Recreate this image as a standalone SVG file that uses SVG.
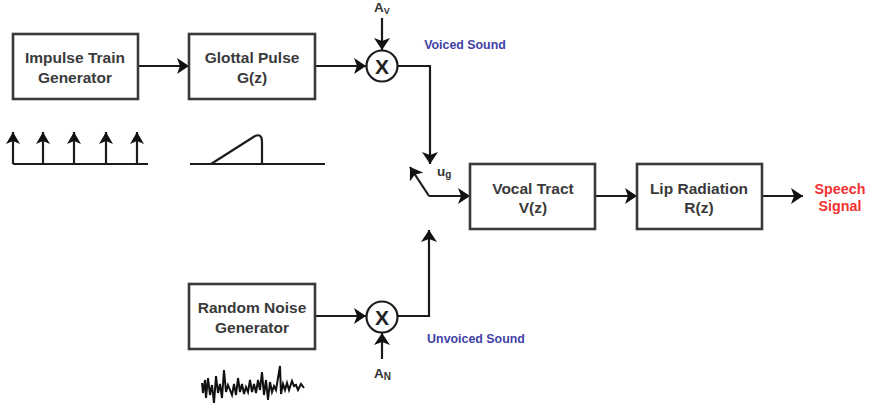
<svg xmlns="http://www.w3.org/2000/svg" width="870" height="410" viewBox="0 0 870 410">
<style>
.b{fill:#fff;stroke:#3a3a3a;stroke-width:2.6}
.c{fill:#fff;stroke:#1c1c1c;stroke-width:2.2}
.l{fill:none;stroke:#1c1c1c;stroke-width:2.2}
.t{font-family:"Liberation Sans",Arial,sans-serif;font-weight:700;font-size:15.500px;fill:#3a3a3a;text-anchor:middle}
.x{font-family:"Liberation Sans",Arial,sans-serif;font-weight:700;font-size:21px;fill:#222;text-anchor:middle}
.s{font-family:"Liberation Sans",Arial,sans-serif;font-weight:700;font-size:12.400px;fill:#3f3fa8;text-anchor:middle}
.r{font-family:"Liberation Sans",Arial,sans-serif;font-weight:700;font-size:14.300px;fill:#f23030;text-anchor:middle}
.a{font-family:"Liberation Sans",Arial,sans-serif;font-weight:700;font-size:13.500px;fill:#333}
</style>
<defs>
<marker id="h" markerUnits="userSpaceOnUse" markerWidth="13" markerHeight="16" refX="12" refY="8" orient="auto"><path d="M0 0L12 8L0 16L3 8Z" fill="#111"/></marker>
<marker id="m" markerUnits="userSpaceOnUse" markerWidth="13" markerHeight="14" refX="12" refY="7" orient="auto"><path d="M0 0L12 7L0 14L3 7Z" fill="#111"/></marker>
</defs>
<rect width="870" height="410" fill="#fff"/>
<g id="connectors">
<path class="l" marker-end="url(#h)" d="M138 66H189"/>
<path class="l" marker-end="url(#h)" d="M315 66H366"/>
<path class="l" marker-end="url(#h)" d="M382 18V50"/>
<path class="l" marker-end="url(#h)" d="M398 66H430V164"/>
<path class="l" marker-end="url(#h)" d="M429 196L410 167"/>
<path class="l" marker-end="url(#h)" d="M429 196H470"/>
<path class="l" marker-end="url(#h)" d="M595 196H637"/>
<path class="l" marker-end="url(#h)" d="M762 196H803"/>
<path class="l" marker-end="url(#h)" d="M315 316H366"/>
<path class="l" marker-end="url(#h)" d="M382 359V333"/>
<path class="l" marker-end="url(#h)" d="M398 316H429V230"/>
</g>
<g id="impulse-train-generator"><rect class="b" x="13" y="34" width="125" height="65"/><text class="t" x="75" y="63">Impulse Train</text><text class="t" x="75" y="83">Generator</text></g>
<g id="glottal-pulse"><rect class="b" x="189" y="34" width="126" height="65"/><text class="t" x="252" y="63">Glottal Pulse</text><text class="t" x="252" y="83">G(z)</text></g>
<g id="mult-voiced"><circle class="c" cx="382" cy="66" r="15.500"/><text class="x" x="382" y="74">X</text></g>
<g id="vocal-tract"><rect class="b" x="470" y="164" width="125" height="65"/><text class="t" x="533" y="194">Vocal Tract</text><text class="t" x="533" y="213">V(z)</text></g>
<g id="lip-radiation"><rect class="b" x="637" y="164" width="125" height="65"/><text class="t" x="699" y="194">Lip Radiation</text><text class="t" x="699" y="213">R(z)</text></g>
<g id="random-noise-generator"><rect class="b" x="189" y="284" width="126" height="65"/><text class="t" x="252" y="313">Random Noise</text><text class="t" x="252" y="333">Generator</text></g>
<g id="mult-unvoiced"><circle class="c" cx="382" cy="317" r="15.500"/><text class="x" x="382" y="325">X</text></g>
<g id="label-av"><text class="a" x="374" y="12">A<tspan font-size="9" dy="2">V</tspan></text></g>
<g id="label-an"><text class="a" x="374" y="378">A<tspan font-size="10" dy="2">N</tspan></text></g>
<g id="label-voiced"><text class="s" x="465" y="49">Voiced Sound</text></g>
<g id="label-unvoiced"><text class="s" x="476" y="343">Unvoiced Sound</text></g>
<g id="label-ug"><text class="a" x="437" y="176">u<tspan font-size="10" dy="2">g</tspan></text></g>
<g id="label-speech"><text class="r" x="840" y="194">Speech</text><text class="r" x="840" y="211">Signal</text></g>
<g id="impulse-waveform">
<path class="l" d="M13 164H148"/>
<path class="l" marker-end="url(#m)" d="M13 164V132"/>
<path class="l" marker-end="url(#m)" d="M43 164V132"/>
<path class="l" marker-end="url(#m)" d="M74 164V132"/>
<path class="l" marker-end="url(#m)" d="M106 164V132"/>
<path class="l" marker-end="url(#m)" d="M137 164V132"/>
</g>
<g id="glottal-waveform"><path class="l" d="M190 164H325M211 164L255 136Q262 133 262 142V164"/></g>
<g id="noise-waveform"><path fill="none" stroke="#111" stroke-width="2" d="M202 383L203 393L205 380L206 398L208 378L210 395L212 385L214 403L216 376L218 393L220 384L222 398L224 370L226 392L228 385L230 390L232 395L234 384L236 395L238 378L240 392L242 384L244 394L246 387L248 392L250 380L252 392L254 384L256 393L258 380L260 390L262 372L264 395L266 380L268 400L270 382L272 392L274 386L276 390L278 378L280 366L281 394L283 384L285 390L287 383L289 390L292 381L294 386L296 385L298 390L301 384L304 388"/></g>
</svg>
